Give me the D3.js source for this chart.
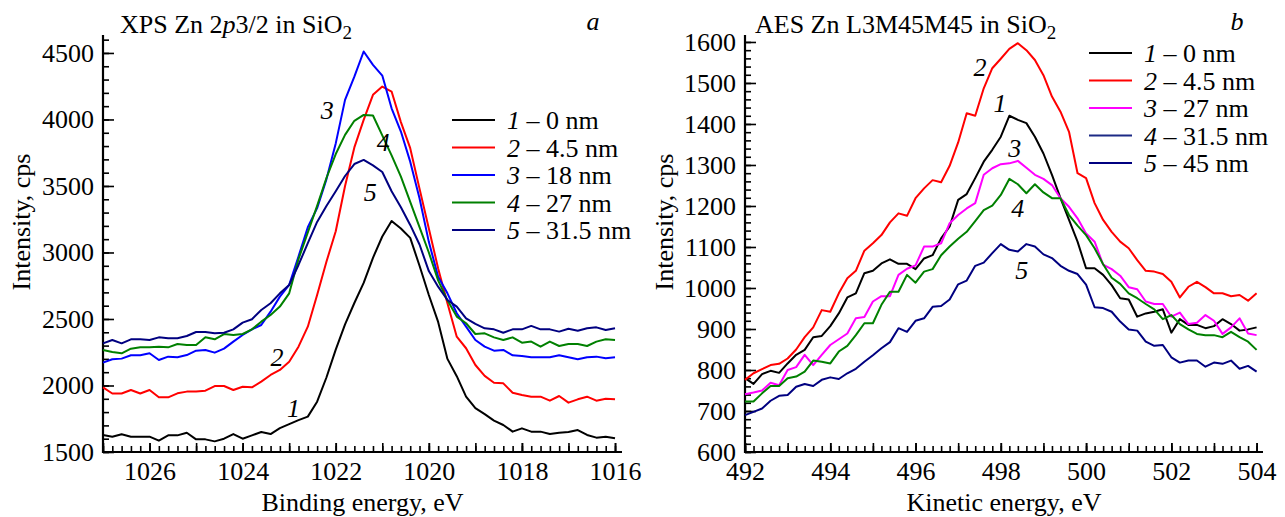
<!DOCTYPE html>
<html>
<head>
<meta charset="utf-8">
<script src="https://cdn.jsdelivr.net/npm/d3@7"></script>
<style>
	body { margin: 0; background: #fff; }
	text { font-family: "Liberation Serif", "Times New Roman", serif; fill: #000; }
</style>
</head>
<body>
<svg id="fig" width="1285" height="517"></svg>
<script>
// panel a: XPS Zn 2p3/2, binding energy 1027 -> 1016 eV, step 0.2 eV
var xps_start = 1027.0, xps_step = -0.2;
var xps_0nm = [1628,1615,1633,1615,1615,1615,1585,1625,1625,1645,1595,1595,1580,1600,1635,1600,1625,1650,1635,1680,
	1710,1740,1766,1878,2060,2270,2460,2620,2771,2960,3120,3237,3180,3110,2900,2680,2478,2200,2070,1916,
	1830,1785,1736,1703,1653,1678,1653,1653,1635,1645,1650,1665,1628,1608,1615,1603];
var xps_4_5nm = [1986,1940,1940,1966,1940,1966,1911,1911,1941,1954,1954,1961,1996,1996,1966,1991,1986,2029,2079,2117,
	2179,2292,2442,2681,2930,3160,3500,3790,3997,4185,4247,4210,3980,3784,3480,3180,2880,2618,2367,2280,
	2154,2072,2021,2016,1946,1929,1916,1916,1886,1921,1871,1896,1916,1886,1901,1896];
var xps_18nm = [2172,2197,2202,2227,2227,2242,2192,2217,2212,2229,2262,2267,2247,2277,2330,2380,2422,2455,2555,2668,
	2756,2970,3190,3333,3550,3820,4147,4322,4511,4410,4330,4084,3909,3683,3408,3080,2818,2693,2543,2443,
	2342,2292,2262,2267,2227,2222,2212,2212,2212,2227,2212,2197,2212,2217,2205,2212];
var xps_27nm = [2267,2252,2242,2277,2287,2287,2292,2287,2312,2305,2305,2362,2347,2387,2380,2387,2422,2480,2530,2593,
	2693,2950,3150,3350,3560,3740,3884,3990,4034,4030,3880,3730,3570,3380,3190,3000,2790,2640,2518,2468,
	2387,2392,2362,2342,2362,2322,2330,2292,2330,2297,2312,2312,2297,2330,2347,2342];
var xps_31_5nm = [2317,2342,2317,2347,2347,2342,2362,2355,2355,2372,2402,2402,2392,2397,2422,2473,2498,2568,2618,2693,
	2756,2906,3070,3230,3350,3460,3575,3665,3696,3655,3605,3460,3340,3207,3060,2860,2743,2643,2593,2505,
	2463,2430,2422,2397,2422,2422,2448,2422,2422,2405,2427,2412,2430,2437,2417,2430];
var xps_names = ['0 nm', '4.5 nm', '18 nm', '27 nm', '31.5 nm'];
var xps_colors = ['#000000', '#ff0000', '#0000ff', '#008000', '#000080'];
var xps_yticks = [1500, 2000, 2500, 3000, 3500, 4000, 4500];
var xps_xticks = [1026, 1024, 1022, 1020, 1018, 1016];
// curve numbers: [label, energy, intensity]
var xps_marks = [['1', 1022.91, 1831], ['2', 1023.26, 2214], ['3', 1022.18, 4072], ['4', 1020.98, 3831], ['5', 1021.26, 3455]];

// panel b: AES Zn L3M45M45, kinetic energy 492 -> 504 eV, step 0.2 eV
var aes_start = 492.0, aes_step = 0.2;
var aes_0nm = [780,766,790,798,793,816,837,849,880,883,907,938,977,987,1036,1042,1060,1070,1059,1059,
	1046,1072,1080,1121,1150,1215,1229,1268,1308,1337,1369,1420,1410,1402,1369,1328,1276,1219,1166,1113,
	1048,1048,1032,1007,975,972,930,938,942,948,891,924,910,910,902,907,924,912,896,899,904];
var aes_4_5nm = [776,792,802,812,815,828,850,880,904,946,942,987,1024,1042,1091,1109,1129,1160,1182,1176,
	1219,1243,1263,1258,1298,1355,1426,1420,1487,1536,1559,1583,1597,1580,1556,1519,1467,1430,1381,1280,
	1268,1207,1166,1137,1113,1097,1068,1042,1040,1034,1015,977,1003,1015,1002,987,987,980,983,969,987];
var aes_27nm = [741,745,750,769,763,800,807,837,812,837,861,875,889,926,929,967,980,980,1032,1047,
	1055,1101,1101,1109,1158,1178,1194,1207,1276,1292,1302,1304,1310,1293,1276,1266,1251,1219,1198,1170,
	1133,1113,1057,1046,1030,1002,997,967,961,961,930,940,912,915,934,920,888,904,926,889,885];
var aes_31_5nm = [723,723,743,761,761,780,784,796,823,820,816,845,859,885,914,914,959,991,991,1032,
	1013,1040,1046,1080,1101,1120,1137,1163,1190,1201,1227,1266,1253,1231,1253,1233,1219,1219,1178,1152,
	1129,1097,1058,1025,1010,987,975,961,948,924,934,912,899,888,885,885,880,893,880,869,849];
var aes_45nm = [690,698,706,725,737,739,759,766,761,776,782,778,792,803,820,836,853,868,902,893,
	920,926,954,956,972,1009,1018,1054,1062,1085,1107,1093,1089,1107,1101,1082,1073,1054,1042,1034,
	1008,953,951,942,918,899,896,869,859,861,831,818,823,823,808,818,815,823,803,810,796];
var aes_names = ['0 nm', '4.5 nm', '27 nm', '31.5 nm', '45 nm'];
var aes_colors = ['#000000', '#ff0000', '#ff00ff', '#008000', '#000080'];
var aes_legend_colors = ['#000000', '#ff0000', '#ff00ff', '#1c2a85', '#000080'];
var aes_yticks = [600, 700, 800, 900, 1000, 1100, 1200, 1300, 1400, 1500, 1600];
var aes_xticks = [492, 494, 496, 498, 500, 502, 504];
var aes_marks = [['1', 497.98, 1451], ['2', 497.51, 1539], ['3', 498.33, 1341], ['4', 498.40, 1195], ['5', 498.49, 1044]];

var svg = d3.select('#fig');
var font_size = 26;

function to_points(start, step, values)  {
	return values.map(function(v, i)  { return [start + step*i, v]; });
}

function draw_panel(cfg)  {
	var x_scale = d3.scaleLinear().domain(cfg.xdomain).range(cfg.xrange);
	var y_scale = d3.scaleLinear().domain(cfg.ydomain).range([452, 35]);
	var x0 = cfg.xrange[0], x1 = cfg.xrange[1];
	var y0 = 452, y1 = 35;
	var g = svg.append('g');

	// x ticks: minor 0.2, medium 1, labelled 2
	var xlo = Math.min(cfg.xdomain[0], cfg.xdomain[1]), xhi = Math.max(cfg.xdomain[0], cfg.xdomain[1]);
	var x_minor = d3.range(Math.ceil(xlo*5), Math.floor(xhi*5)+1).map(d => d/5);
	var x_mid = d3.range(Math.ceil(xlo), Math.floor(xhi)+1);
	var ax = g.append('g').attr('transform', 'translate(0,'+y0+')');
	ax.append('g').call(d3.axisBottom(x_scale).tickValues(x_minor).tickSize(-6).tickFormat(''));
	ax.append('g').call(d3.axisBottom(x_scale).tickValues(x_mid).tickSize(-9).tickFormat(''));
	ax.append('g').call(d3.axisBottom(x_scale).tickValues(cfg.xticks).tickSize(-9).tickPadding(10).tickFormat(d3.format('d')))
		.attr('font-size', font_size).attr('font-family', '"Liberation Serif", serif');

	// y ticks
	var y_minor = d3.range(cfg.ydomain[0], cfg.ydomain[1], cfg.yminor);
	var ay = g.append('g').attr('transform', 'translate('+x0+',0)');
	ay.append('g').call(d3.axisLeft(y_scale).tickValues(y_minor).tickSize(-6).tickFormat(''));
	ay.append('g').call(d3.axisLeft(y_scale).tickValues(cfg.yticks).tickSize(-11).tickPadding(9).tickFormat(d3.format('d')))
		.attr('font-size', font_size).attr('font-family', '"Liberation Serif", serif');

	g.selectAll('.domain').remove();
	g.selectAll('.tick line').attr('stroke', '#000').attr('stroke-width', 1.6);
	g.selectAll('.tick text').attr('fill', '#000');

	g.append('line').attr('x1', x0).attr('x2', x1).attr('y1', y0).attr('y2', y0)
		.attr('stroke', '#000').attr('stroke-width', 2.2);
	g.append('line').attr('x1', x0).attr('x2', x0).attr('y1', y0+1).attr('y2', y1)
		.attr('stroke', '#000').attr('stroke-width', 2.2);

	// curves
	var line = d3.line().x(d => x_scale(d[0])).y(d => y_scale(d[1]));
	cfg.series.forEach(function(s, i)  {
		g.append('path').datum(to_points(cfg.start, cfg.step, s))
			.attr('d', line).attr('fill', 'none')
			.attr('stroke', cfg.colors[i]).attr('stroke-width', 2).attr('stroke-linejoin', 'round');
	});

	// curve numbers
	g.selectAll('.mark').data(cfg.marks).enter().append('text')
		.attr('x', d => x_scale(d[1])).attr('y', d => y_scale(d[2])).attr('dy', '0.35em')
		.attr('text-anchor', 'middle').attr('font-style', 'italic').attr('font-size', font_size)
		.text(d => d[0]);

	// legend
	cfg.names.forEach(function(name, i)  {
		var ly = cfg.legend[1] + i*27.5;
		g.append('line').attr('x1', cfg.legend[0]).attr('x2', cfg.legend[0]+43).attr('y1', ly).attr('y2', ly)
			.attr('stroke', cfg.legend_colors[i]).attr('stroke-width', 2.2);
		var t = g.append('text').attr('x', cfg.legend[0]+55).attr('y', ly+9).attr('font-size', font_size);
		t.append('tspan').attr('font-style', 'italic').text(String(i+1));
		t.append('tspan').text(' \u2013 ' + name);
	});

	// title
	var title = g.append('text').attr('x', x0+cfg.title_dx).attr('y', 33).attr('font-size', font_size);
	cfg.title.forEach(function(p)  {
		var ts = title.append('tspan').text(p[0]);
		if(p[1] == 'i') ts.attr('font-style', 'italic');
		if(p[1] == 'sub') ts.attr('font-size', 19).attr('dy', 6);
	});
	g.append('text').attr('x', cfg.letter[0]).attr('y', 30).attr('font-size', font_size)
		.attr('font-style', 'italic').attr('text-anchor', 'middle').text(cfg.letter[1]);

	// axis titles
	g.append('text').attr('x', (x0+x1)/2 + cfg.xlabel_dx).attr('y', 511).attr('text-anchor', 'middle')
		.attr('font-size', font_size).text(cfg.xlabel);
	g.append('text').attr('transform', 'translate('+(x0-cfg.ylabel_off)+',222) rotate(-90)')
		.attr('text-anchor', 'middle').attr('font-size', font_size).text('Intensity, cps');
}

draw_panel({
	xdomain: [1027, 1015.85], xrange: [103, 622],
	ydomain: [1500, 4635], yticks: xps_yticks, yminor: 100, xticks: xps_xticks,
	start: xps_start, step: xps_step,
	series: [xps_0nm, xps_4_5nm, xps_18nm, xps_27nm, xps_31_5nm],
	colors: xps_colors, legend_colors: xps_colors, names: xps_names, marks: xps_marks,
	legend: [452, 120],
	title: [['XPS Zn 2', ''], ['p', 'i'], ['3/2 in SiO', ''], ['2', 'sub']], title_dx: 17,
	letter: [593, 'a'],
	xlabel: 'Binding energy, eV', xlabel_dx: 0, ylabel_off: 73
});

draw_panel({
	xdomain: [492, 504.15], xrange: [745, 1263],
	ydomain: [600, 1617], yticks: aes_yticks, yminor: 20, xticks: aes_xticks,
	start: aes_start, step: aes_step,
	series: [aes_0nm, aes_4_5nm, aes_27nm, aes_31_5nm, aes_45nm],
	colors: aes_colors, legend_colors: aes_legend_colors, names: aes_names, marks: aes_marks,
	legend: [1089, 53],
	title: [['AES Zn L3M45M45 in SiO', ''], ['2', 'sub']], title_dx: 10,
	letter: [1237, 'b'],
	xlabel: 'Kinetic energy, eV', xlabel_dx: 0, ylabel_off: 72
});
</script>
</body>
</html>
